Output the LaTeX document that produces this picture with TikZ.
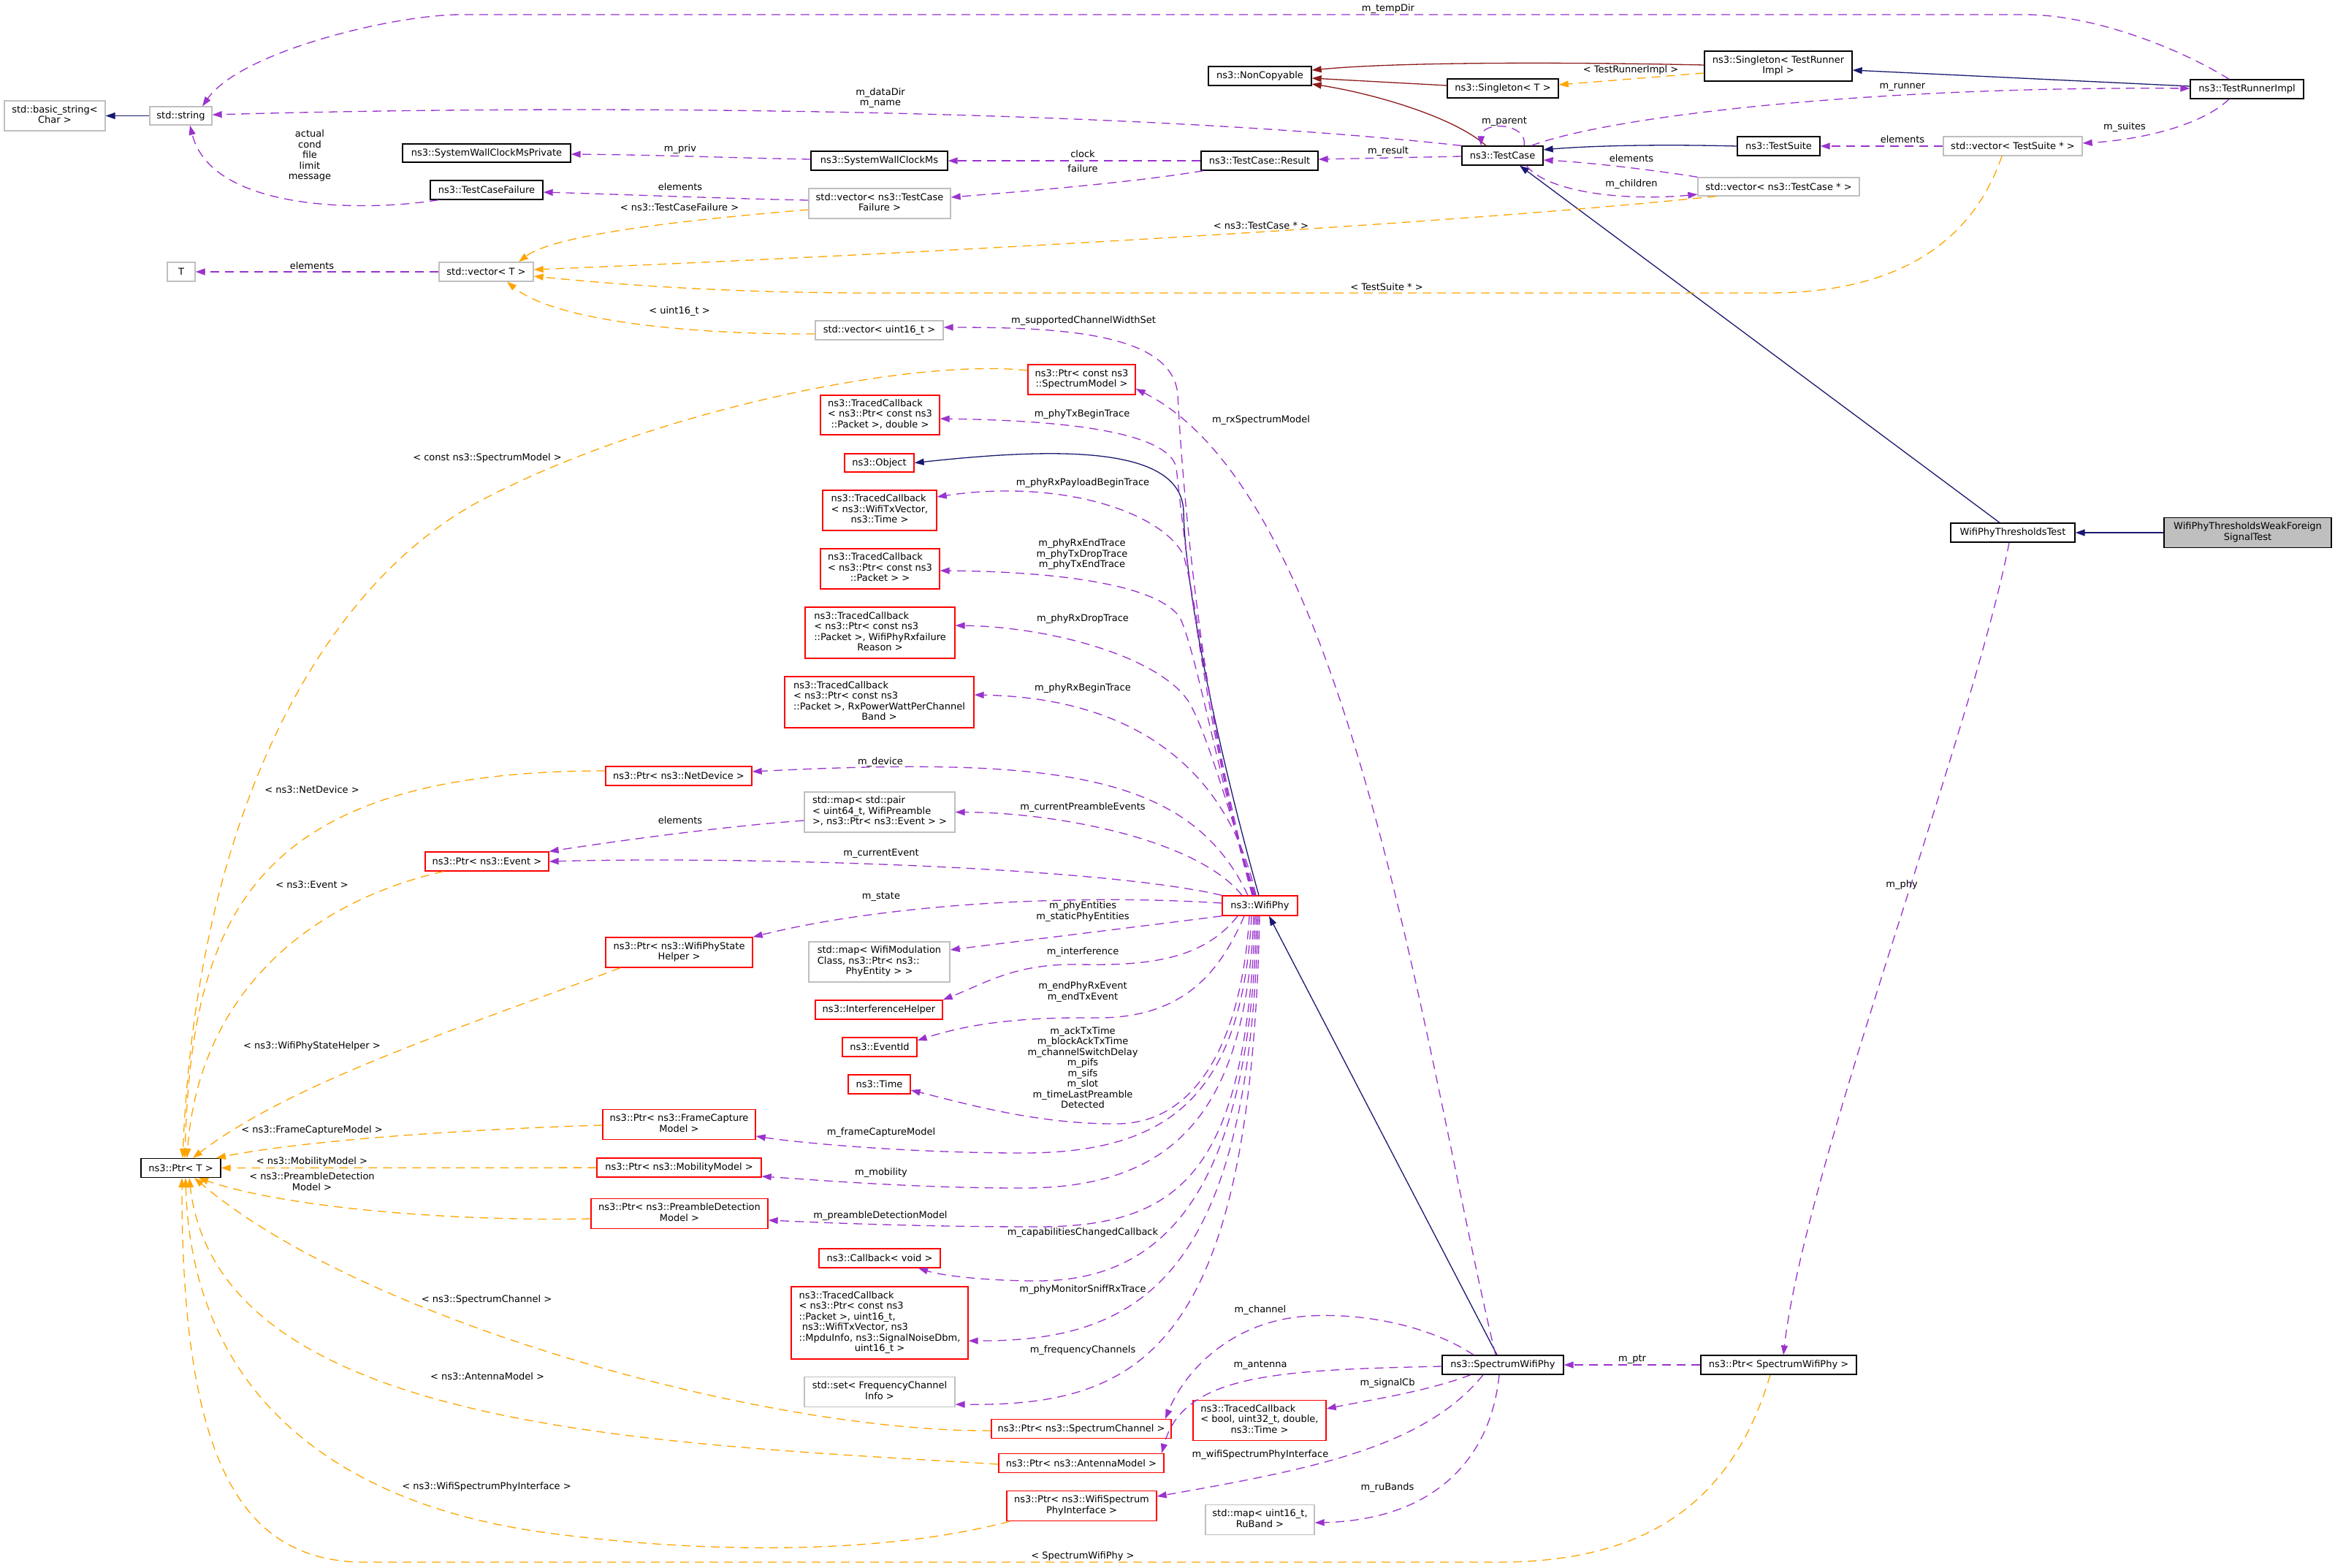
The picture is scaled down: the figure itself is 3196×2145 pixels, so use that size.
\documentclass[tikz,border=0pt]{standalone}
\usepackage{fontspec}
\setmainfont{DejaVu Sans}
\usetikzlibrary{arrows.meta}

\definecolor{inhcol}{HTML}{191970}
\definecolor{privcol}{HTML}{8B1A1A}
\definecolor{usecol}{HTML}{9A32CD}
\definecolor{tmplcol}{HTML}{FFA500}
\definecolor{boxgrey}{HTML}{BFBFBF}

% lines left aligned, last line centred
\newcommand{\mlines}[2]{\begin{tabular}{@{}l@{}}#1\\\multicolumn{1}{@{}c@{}}{#2}\end{tabular}}

\tikzset{
  cls/.style={draw=black, line width=1.3pt, inner sep=0pt, align=center, font=\fontsize{13}{14.5}\selectfont},
  extcls/.style={cls, draw=boxgrey},
  undoc/.style={cls, draw=red},
  lbl/.style={inner sep=0pt, align=center, font=\fontsize{13}{14.5}\selectfont},
  arr/.style={-{Triangle[length=13pt, width=9pt]}},
  inh/.style={arr, draw=inhcol, line width=1.3pt},
  priv/.style={arr, draw=privcol, line width=1.3pt},
  usage/.style={arr, draw=usecol, line width=1.3pt, dash pattern=on 12pt off 8pt},
  tmpl/.style={arr, draw=tmplcol, line width=1.3pt, dash pattern=on 12pt off 8pt},
}

\begin{document}
\begin{tikzpicture}[x=1pt, y=-1pt]
    \path[use as bounding box, fill=white] (0,0) rectangle (3196,2145);

    % test framework
    \node (basicstr) [extcls, minimum width=138pt, minimum height=41pt] at (75,158.5) {\mlines{std::basic\_string<}{Char >}};
    \node (stdstring) [extcls, minimum width=85pt, minimum height=25pt] at (247.5,158.5) {std::string};
    \node (wallpriv) [cls, minimum width=230pt, minimum height=25pt] at (666,209.5) {ns3::SystemWallClockMsPrivate};
    \node (tcfailure) [cls, minimum width=154pt, minimum height=26pt] at (666,260) {ns3::TestCaseFailure};
    \node (tT) [extcls, minimum width=38pt, minimum height=26pt] at (248,372) {T};
    \node (vecT) [extcls, minimum width=129pt, minimum height=26pt] at (665.5,372) {std::vector< T >};
    \node (noncopy) [cls, minimum width=141pt, minimum height=26pt] at (1724.5,104) {ns3::NonCopyable};
    \node (singT) [cls, minimum width=152pt, minimum height=26pt] at (2057,121) {ns3::Singleton< T >};
    \node (testcase) [cls, minimum width=111pt, minimum height=26pt] at (2056.5,213) {ns3::TestCase};
    \node (result) [cls, minimum width=160pt, minimum height=26pt] at (1724,220) {ns3::TestCase::Result};
    \node (wallclock) [cls, minimum width=187pt, minimum height=26pt] at (1203.5,220) {ns3::SystemWallClockMs};
    \node (vecfail) [extcls, minimum width=194pt, minimum height=41pt] at (1204,278.5) {\mlines{std::vector< ns3::TestCase}{Failure >}};
    \node (singrun) [cls, minimum width=202pt, minimum height=41pt] at (2434,90.5) {\mlines{ns3::Singleton< TestRunner}{Impl >}};
    \node (runner) [cls, minimum width=155pt, minimum height=26pt] at (3075.5,122) {ns3::TestRunnerImpl};
    \node (suite) [cls, minimum width=113pt, minimum height=26pt] at (2434.5,200) {ns3::TestSuite};
    \node (vecsuite) [extcls, minimum width=190pt, minimum height=26pt] at (2755,200) {std::vector< TestSuite * >};
    \node (veccase) [extcls, minimum width=221pt, minimum height=25pt] at (2434.5,255.5) {std::vector< ns3::TestCase * >};

    % wifi phy members
    \node (vecu16) [extcls, minimum width=175pt, minimum height=26pt] at (1203.5,452) {std::vector< uint16\_t >};
    \node (ptrsm) [undoc, minimum width=147pt, minimum height=41pt] at (1480.5,519.5) {\mlines{ns3::Ptr< const ns3}{::SpectrumModel >}};
    \node (tcbTx) [undoc, minimum width=163pt, minimum height=54pt] at (1204.5,568) {\mlines{ns3::TracedCallback\\< ns3::Ptr< const ns3}{::Packet >, double >}};
    \node (object) [undoc, minimum width=95pt, minimum height=25pt] at (1203.5,633.5) {ns3::Object};
    \node (tcbPayload) [undoc, minimum width=156pt, minimum height=55pt] at (1204,698.5) {\mlines{ns3::TracedCallback\\< ns3::WifiTxVector,}{ns3::Time >}};
    \node (tcbPkt) [undoc, minimum width=163pt, minimum height=55pt] at (1204.5,778.5) {\mlines{ns3::TracedCallback\\< ns3::Ptr< const ns3}{::Packet > >}};
    \node (tcbDrop) [undoc, minimum width=205pt, minimum height=70pt] at (1204.5,866) {\mlines{ns3::TracedCallback\\< ns3::Ptr< const ns3\\::Packet >, WifiPhyRxfailure}{Reason >}};
    \node (tcbRx) [undoc, minimum width=259pt, minimum height=70pt] at (1203.5,961) {\mlines{ns3::TracedCallback\\< ns3::Ptr< const ns3\\::Packet >, RxPowerWattPerChannel}{Band >}};
    \node (ptrdev) [undoc, minimum width=200pt, minimum height=26pt] at (929,1062) {ns3::Ptr< ns3::NetDevice >};
    \node (mappre) [extcls, minimum width=206pt, minimum height=55pt] at (1204,1111.5) {\mlines{std::map< std::pair\\< uint64\_t, WifiPreamble}{>, ns3::Ptr< ns3::Event > >}};
    \node (ptrevent) [undoc, minimum width=169pt, minimum height=26pt] at (666.5,1179) {ns3::Ptr< ns3::Event >};
    \node (wifiphy) [undoc, minimum width=103pt, minimum height=27pt] at (1724.5,1239.5) {ns3::WifiPhy};
    \node (ptrstate) [undoc, minimum width=201pt, minimum height=41pt] at (929.5,1303.5) {\mlines{ns3::Ptr< ns3::WifiPhyState}{Helper >}};
    \node (mapmod) [extcls, minimum width=193pt, minimum height=55pt] at (1203.5,1316.5) {\mlines{std::map< WifiModulation\\Class, ns3::Ptr< ns3::}{PhyEntity > >}};
    \node (interf) [undoc, minimum width=174pt, minimum height=26pt] at (1203,1382) {ns3::InterferenceHelper};
    \node (eventid) [undoc, minimum width=102pt, minimum height=26pt] at (1204,1433) {ns3::EventId};
    \node (ttime) [undoc, minimum width=85pt, minimum height=26pt] at (1203.5,1484) {ns3::Time};
    \node (ptrfc) [undoc, minimum width=209pt, minimum height=41pt] at (929.5,1539) {\mlines{ns3::Ptr< ns3::FrameCapture}{Model >}};
    \node (ptrmob) [undoc, minimum width=225pt, minimum height=26pt] at (929.5,1598) {ns3::Ptr< ns3::MobilityModel >};
    \node (ptrpre) [undoc, minimum width=242pt, minimum height=41pt] at (930,1661) {\mlines{ns3::Ptr< ns3::PreambleDetection}{Model >}};
    \node (cbvoid) [undoc, minimum width=166pt, minimum height=26pt] at (1204,1722) {ns3::Callback< void >};
    \node (tcbSniff) [undoc, minimum width=242pt, minimum height=99pt] at (1204,1810.5) {\mlines{ns3::TracedCallback\\< ns3::Ptr< const ns3\\::Packet >, uint16\_t,\\\ ns3::WifiTxVector, ns3\\::MpduInfo, ns3::SignalNoiseDbm,}{uint16\_t >}};
    \node (setfreq) [extcls, minimum width=206pt, minimum height=41pt] at (1204,1905) {\mlines{std::set< FrequencyChannel}{Info >}};
    \node (ptrchan) [undoc, minimum width=246pt, minimum height=26pt] at (1480,1955.5) {ns3::Ptr< ns3::SpectrumChannel >};
    \node (ptrant) [undoc, minimum width=226pt, minimum height=26pt] at (1480,2002.5) {ns3::Ptr< ns3::AntennaModel >};
    \node (ptrwsi) [undoc, minimum width=205pt, minimum height=41pt] at (1480.5,2061) {\mlines{ns3::Ptr< ns3::WifiSpectrum}{PhyInterface >}};
    \node (tcbSig) [undoc, minimum width=182pt, minimum height=55pt] at (1724,1944) {\mlines{ns3::TracedCallback\\< bool, uint32\_t, double,}{ns3::Time >}};
    \node (mapru) [extcls, minimum width=149pt, minimum height=41pt] at (1724.5,2080) {\mlines{std::map< uint16\_t,}{RuBand >}};
    \node (specphy) [cls, minimum width=166pt, minimum height=26pt] at (2057,1868) {ns3::SpectrumWifiPhy};
    \node (ptrspec) [cls, minimum width=213pt, minimum height=26pt] at (2434.5,1868) {ns3::Ptr< SpectrumWifiPhy >};
    \node (ptrT) [cls, minimum width=109pt, minimum height=26pt] at (247.5,1598.5) {ns3::Ptr< T >};
    \node (thrtest) [cls, minimum width=170pt, minimum height=26pt] at (2755,729) {WifiPhyThresholdsTest};
    \node (weak) [cls, fill=boxgrey, minimum width=229pt, minimum height=41pt] at (3076.5,729) {\mlines{WifiPhyThresholdsWeakForeign}{SignalTest}};

    % inheritance
    \draw[inh] (stdstring) -- (basicstr);
    \draw[inh] (runner.west |- 0,118) -- (singrun.east |- 0,96);
    \draw[inh] (suite.west) .. controls (2260,197) and (2170,200) .. (testcase.east |- 0,205);
    \draw[inh] (thrtest.north -| 2737,0) -- (testcase.south -| 2080,0);
    \draw[inh] (weak) -- (thrtest);
    \draw[inh] (wifiphy.north -| 1723,0) .. controls (1660,1000) and (1622,800) .. (1620,700) .. controls (1617,610) and (1450,612) .. (object.east);
    \draw[inh] (specphy.north -| 2049,0) -- (wifiphy.south -| 1737,0);
    \draw[priv] (singrun.west |- 0,89) .. controls (2100,84) and (1900,86) .. (noncopy.east |- 0,96);
    \draw[priv] (singT.west |- 0,117) -- (noncopy.east |- 0,107);
    \draw[priv] (testcase.north -| 2034,0) .. controls (1990,160) and (1880,128) .. (noncopy.east |- 0,115);

    % templates
    \draw[tmpl] (singrun.west |- 0,100) -- (singT.east |- 0,116);
    \node (lrunimpl) [lbl] at (2232,96) {< TestRunnerImpl >};
    \draw[tmpl] (vecfail.west |- 0,287) .. controls (950,300) and (760,320) .. (vecT.north -| 710,0);
    \node (lfailvec) [lbl] at (930,284) {< ns3::TestCaseFailure >};
    \draw[tmpl] (veccase.south -| 2349,0) .. controls (1950,310) and (1200,350) .. (vecT.east |- 0,369);
    \node (lcasevec) [lbl] at (1726,309) {< ns3::TestCase * >};
    \draw[tmpl] (vecsuite.south -| 2740,0) .. controls (2700,330) and (2600,401) .. (2420,401) -- (1200,401) .. controls (1000,401) and (850,390) .. (vecT.east |- 0,378);
    \node (lsuitevec) [lbl] at (1898,393) {< TestSuite * >};
    \draw[tmpl] (vecu16.west |- 0,457) .. controls (950,458) and (760,440) .. (vecT.south -| 694,0);
    \node (lu16) [lbl] at (930,426) {< uint16\_t >};
    \draw[tmpl] (ptrsm.west |- 0,507) .. controls (1250,490) and (900,560) .. (666,681) .. controls (450,790) and (270,1100) .. (ptrT.north -| 250,0);
    \node (lsm) [lbl] at (667,627) {< const ns3::SpectrumModel >};
    \draw[tmpl] (ptrdev.west |- 0,1055) .. controls (350,1055) and (262,1250) .. (ptrT.north -| 253,0);
    \node (ldev) [lbl] at (427,1081) {< ns3::NetDevice >};
    \draw[tmpl] (ptrevent.south -| 607,0) .. controls (400,1240) and (270,1380) .. (ptrT.north -| 256,0);
    \node (levent) [lbl] at (427,1211) {< ns3::Event >};
    \draw[tmpl] (ptrstate.south -| 849,0) .. controls (650,1400) and (400,1480) .. (ptrT.north -| 264,0);
    \node (lstate) [lbl] at (427,1432) {< ns3::WifiPhyStateHelper >};
    \draw[tmpl] (ptrfc.west |- 0,1540) .. controls (650,1545) and (420,1560) .. (ptrT.north -| 296,0);
    \node (lfc) [lbl] at (427,1547) {< ns3::FrameCaptureModel >};
    \draw[tmpl] (ptrmob) -- (ptrT);
    \node (lmob) [lbl] at (427,1590) {< ns3::MobilityModel >};
    \draw[tmpl] (ptrpre.west |- 0,1668) .. controls (600,1672) and (380,1650) .. (ptrT.south -| 272,0);
    \node (lpre) [lbl] at (427,1617) {< ns3::PreambleDetection\\Model >};
    \draw[tmpl] (ptrchan.west |- 0,1958) .. controls (1050,1960) and (500,1810) .. (ptrT.south -| 266,0);
    \node (lchan) [lbl] at (666,1779) {< ns3::SpectrumChannel >};
    \draw[tmpl] (ptrant.west |- 0,2004) .. controls (900,1975) and (300,1960) .. (ptrT.south -| 259,0);
    \node (lant) [lbl] at (667,1884) {< ns3::AntennaModel >};
    \draw[tmpl] (ptrwsi.south -| 1382,0) .. controls (1200,2130) and (950,2125) .. (750,2098) .. controls (450,2058) and (262,1900) .. (ptrT.south -| 254,0);
    \node (lwsi) [lbl] at (666,2035) {< ns3::WifiSpectrumPhyInterface >};
    \draw[tmpl] (ptrspec.south -| 2423,0) .. controls (2370,2060) and (2250,2138) .. (2050,2138) -- (500,2138) .. controls (330,2138) and (249,2000) .. (ptrT.south -| 249,0);
    \node (lspec) [lbl] at (1482,2130) {< SpectrumWifiPhy >};

    % members, test framework
    \draw[usage] (runner.north -| 3051,0) .. controls (2990,70) and (2870,20) .. (2771,20) -- (631,20) .. controls (540,20) and (330,70) .. (stdstring.north -| 277,0);
    \node (ltempdir) [lbl] at (1900,12) {m\_tempDir};
    \draw[usage] (testcase.north west) .. controls (1600,155) and (900,140) .. (stdstring.east |- 0,157);
    \node (ldatadir) [lbl] at (1205,134) {m\_dataDir\\m\_name};
    \draw[usage] (tcfailure.south -| 600,0) .. controls (500,290) and (290,290) .. (stdstring.south -| 260,0);
    \node (lactual) [lbl] at (424,213) {actual\\cond\\file\\limit\\message};
    \draw[usage] (wallclock.west |- 0,218) .. controls (1000,216) and (900,212) .. (wallpriv.east |- 0,211);
    \node (lpriv) [lbl] at (931,204) {m\_priv};
    \draw[usage] (vecfail.west |- 0,274) .. controls (1000,272) and (850,266) .. (tcfailure.east |- 0,263);
    \node (lelfail) [lbl] at (931,256) {elements};
    \draw[usage] (vecT) -- (tT);
    \node (lelT) [lbl] at (427,364) {elements};
    \draw[usage] (result) -- (wallclock);
    \node (lclock) [lbl] at (1482,211) {clock};
    \draw[usage] (result.south -| 1647,0) .. controls (1550,250) and (1400,262) .. (vecfail.east |- 0,270);
    \node (lfailure) [lbl] at (1482,231) {failure};
    \draw[usage] (testcase.west |- 0,214) -- (result.east |- 0,218);
    \node (lresult) [lbl] at (1900,207) {m\_result};
    \draw[usage] (testcase.north -| 2086,0) .. controls (2092,168) and (2028,165) .. (testcase.north -| 2027,0);
    \node (lparent) [lbl] at (2059,166) {m\_parent};
    \draw[usage] (testcase.north -| 2096,0) .. controls (2200,160) and (2550,118) .. (runner.west |- 0,121);
    \node (lrunner) [lbl] at (2604,119) {m\_runner};
    \draw[usage] (runner.south -| 3051,0) .. controls (3010,175) and (2920,192) .. (vecsuite.east |- 0,196);
    \node (lsuites) [lbl] at (2908,174) {m\_suites};
    \draw[usage] (vecsuite) -- (suite);
    \node (lelsuite) [lbl] at (2604,191) {elements};
    \draw[usage] (veccase.north west) .. controls (2260,232) and (2170,222) .. (testcase.east |- 0,219);
    \node (lelcase) [lbl] at (2233,217) {elements};
    \draw[usage] (testcase.south -| 2089,0) .. controls (2120,265) and (2230,275) .. (veccase.west |- 0,266);
    \node (lchildren) [lbl] at (2233,252) {m\_children};

    % members of WifiPhy
    \draw[usage] (wifiphy.north -| 1714,0) .. controls (1650,1000) and (1620,700) .. (1612,540) .. controls (1605,455) and (1450,448) .. (vecu16.east |- 0,448);
    \node (lwidth) [lbl] at (1483,439) {m\_supportedChannelWidthSet};
    \draw[usage] (wifiphy.north -| 1715,0) .. controls (1650,1000) and (1622,750) .. (1610,640) .. controls (1598,585) and (1420,575) .. (tcbTx.east |- 0,573);
    \node (ltxbegin) [lbl] at (1481,567) {m\_phyTxBeginTrace};
    \draw[usage] (wifiphy.north -| 1716,0) .. controls (1665,1050) and (1640,830) .. (1620,760) .. controls (1590,700) and (1450,655) .. (tcbPayload.east |- 0,680);
    \node (lpayload) [lbl] at (1482,661) {m\_phyRxPayloadBeginTrace};
    \draw[usage] (wifiphy.north -| 1717,0) .. controls (1670,1080) and (1640,900) .. (1615,845) .. controls (1580,795) and (1420,782) .. (tcbPkt.east |- 0,781);
    \node (lrxend) [lbl] at (1481,759) {m\_phyRxEndTrace\\m\_phyTxDropTrace\\m\_phyTxEndTrace};
    \draw[usage] (wifiphy.north -| 1718,0) .. controls (1680,1100) and (1650,1000) .. (1628,962) .. controls (1590,900) and (1440,858) .. (tcbDrop.east |- 0,856);
    \node (lrxdrop) [lbl] at (1482,847) {m\_phyRxDropTrace};
    \draw[usage] (wifiphy.north -| 1719,0) .. controls (1680,1050) and (1550,955) .. (tcbRx.east |- 0,951);
    \node (lrxbegin) [lbl] at (1482,942) {m\_phyRxBeginTrace};
    \draw[usage] (wifiphy.north -| 1708,0) .. controls (1630,1060) and (1450,1035) .. (ptrdev.east |- 0,1056);
    \node (ldevice) [lbl] at (1205,1043) {m\_device};
    \draw[usage] (wifiphy.north -| 1700,0) .. controls (1640,1150) and (1450,1112) .. (mappre.east);
    \node (lpreamble) [lbl] at (1482,1105) {m\_currentPreambleEvents};
    \draw[usage] (mappre.west |- 0,1123) .. controls (1000,1130) and (850,1150) .. (ptrevent.north east);
    \node (lelevent) [lbl] at (931,1123) {elements};
    \draw[usage] (wifiphy.north west) .. controls (1500,1185) and (1000,1172) .. (ptrevent.east);
    \node (lcurevent) [lbl] at (1206,1168) {m\_currentEvent};
    \draw[usage] (wifiphy.west |- 0,1236) .. controls (1450,1222) and (1200,1240) .. (ptrstate.north east);
    \node (lstatem) [lbl] at (1206,1227) {m\_state};
    \draw[usage] (wifiphy.south west) .. controls (1560,1268) and (1420,1285) .. (mapmod.east |- 0,1300);
    \node (lentities) [lbl] at (1482,1247.5) {m\_phyEntities\\m\_staticPhyEntities};
    \draw[usage] (wifiphy.south -| 1694,0) .. controls (1650,1310) and (1580,1322) .. (1480,1320) .. controls (1390,1318) and (1350,1345) .. (interf.north east);
    \node (linterf) [lbl] at (1482,1303) {m\_interference};
    \draw[usage] (wifiphy.south -| 1703,0) .. controls (1670,1330) and (1620,1394) .. (1500,1393) .. controls (1400,1392) and (1330,1400) .. (eventid.east |- 0,1424);
    \node (lendrx) [lbl] at (1482,1357.5) {m\_endPhyRxEvent\\m\_endTxEvent};
    \draw[usage] (wifiphy.south -| 1710,0) .. controls (1700,1420) and (1640,1537) .. (1530,1538) .. controls (1420,1539) and (1320,1510) .. (ttime.east |- 0,1492);
    \node (ltimes) [lbl] at (1482,1461) {m\_ackTxTime\\m\_blockAckTxTime\\m\_channelSwitchDelay\\m\_pifs\\m\_sifs\\m\_slot\\m\_timeLastPreamble\\Detected};
    \draw[usage] (wifiphy.south -| 1713,0) .. controls (1700,1500) and (1600,1578) .. (1400,1578) .. controls (1250,1578) and (1100,1565) .. (ptrfc.east |- 0,1555);
    \node (lfcm) [lbl] at (1206,1550) {m\_frameCaptureModel};
    \draw[usage] (wifiphy.south -| 1716,0) .. controls (1705,1530) and (1600,1626) .. (1400,1626) .. controls (1250,1626) and (1120,1615) .. (ptrmob.east |- 0,1610);
    \node (lmobm) [lbl] at (1206,1605) {m\_mobility};
    \draw[usage] (wifiphy.south -| 1718,0) .. controls (1705,1600) and (1620,1679) .. (1420,1679) .. controls (1250,1679) and (1120,1673) .. (ptrpre.east |- 0,1670);
    \node (lprem) [lbl] at (1205,1664) {m\_preambleDetectionModel};
    \draw[usage] (wifiphy.south -| 1720,0) .. controls (1710,1650) and (1580,1753) .. (1420,1753) .. controls (1350,1753) and (1290,1746) .. (cbvoid.south -| 1257,0);
    \node (lcapab) [lbl] at (1482,1687) {m\_capabilitiesChangedCallback};
    \draw[usage] (wifiphy.south -| 1722,0) .. controls (1710,1750) and (1560,1836) .. (tcbSniff.east |- 0,1835);
    \node (lsniff) [lbl] at (1482,1765) {m\_phyMonitorSniffRxTrace};
    \draw[usage] (wifiphy.south -| 1724,0) .. controls (1712,1850) and (1560,1925) .. (setfreq.east |- 0,1922);
    \node (lfreq) [lbl] at (1482,1848) {m\_frequencyChannels};

    % members of SpectrumWifiPhy and the test
    \draw[usage] (specphy.north -| 2047,0) .. controls (1950,1450) and (1850,680) .. (ptrsm.east |- 0,532);
    \node (lrxsm) [lbl] at (1726,575) {m\_rxSpectrumModel};
    \draw[usage] (specphy.north -| 2017,0) .. controls (1950,1810) and (1850,1795) .. (1780,1802) .. controls (1680,1812) and (1620,1880) .. (ptrchan.north -| 1595,0);
    \node (lchanm) [lbl] at (1725,1793) {m\_channel};
    \draw[usage] (specphy.west |- 0,1870) .. controls (1750,1875) and (1620,1880) .. (ptrant.north -| 1590,0);
    \node (lantm) [lbl] at (1725,1868) {m\_antenna};
    \draw[usage] (specphy.south -| 2013,0) .. controls (1950,1905) and (1880,1915) .. (tcbSig.east |- 0,1928);
    \node (lsig) [lbl] at (1899,1893) {m\_signalCb};
    \draw[usage] (specphy.south -| 2030,0) .. controls (1950,1980) and (1800,2010) .. (ptrwsi.east |- 0,2048);
    \node (lwsim) [lbl] at (1725,1991) {m\_wifiSpectrumPhyInterface};
    \draw[usage] (specphy.south -| 2052,0) .. controls (2040,2000) and (1960,2080) .. (mapru.east |- 0,2084);
    \node (lru) [lbl] at (1899,2036) {m\_ruBands};
    \draw[usage] (ptrspec) -- (specphy);
    \node (lptr) [lbl] at (2234,1860) {m\_ptr};
    \draw[usage] (thrtest.south -| 2750,0) .. controls (2700,1000) and (2470,1600) .. (ptrspec.north -| 2441,0);
    \node (lphy) [lbl] at (2603,1211) {m\_phy};
\end{tikzpicture}
\end{document}
